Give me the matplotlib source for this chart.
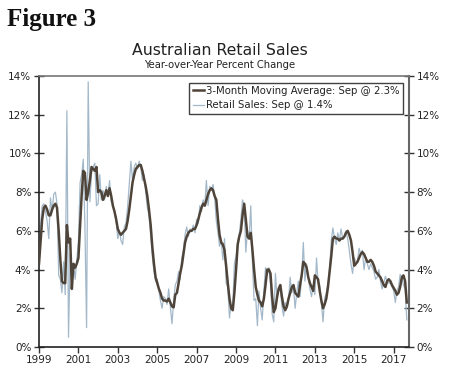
import matplotlib
matplotlib.use("Agg")
import matplotlib.pyplot as plt
import matplotlib.dates as mdates
import numpy as np
import pandas as pd

# 3-month moving average, monthly Jan 1999 - Sep 2017 (%)
ma_1999 = [4.3, 5.5, 6.6, 7.2, 7.3, 7.1, 6.8, 6.8, 7.1, 7.3, 7.4, 7.2]
ma_2000 = [6.0, 4.5, 3.4, 3.3, 3.3, 6.3, 5.4, 5.6, 3.0, 4.3, 4.1, 4.3]
ma_2001 = [4.6, 6.3, 7.8, 9.1, 9.0, 7.6, 8.0, 8.6, 9.3, 9.2, 9.1, 9.3]
ma_2002 = [8.0, 8.1, 8.0, 7.6, 7.8, 8.1, 7.8, 8.2, 7.8, 7.3, 7.0, 6.6]
ma_2003 = [6.1, 5.9, 5.8, 5.9, 6.0, 6.1, 6.5, 7.1, 7.8, 8.5, 8.9, 9.2]
ma_2004 = [9.3, 9.4, 9.4, 9.1, 8.7, 8.3, 7.8, 7.1, 6.3, 5.2, 4.3, 3.6]
ma_2005 = [3.3, 3.0, 2.8, 2.5, 2.4, 2.4, 2.35, 2.5, 2.3, 2.1, 2.05, 2.7]
ma_2006 = [2.8, 3.3, 3.8, 4.2, 4.8, 5.4, 5.7, 5.9, 6.0, 6.0, 6.1, 6.1]
ma_2007 = [6.3, 6.6, 6.9, 7.2, 7.4, 7.3, 7.6, 7.9, 8.1, 8.2, 8.1, 7.8]
ma_2008 = [7.6, 6.6, 5.8, 5.4, 5.3, 5.0, 4.2, 3.3, 2.5, 2.0, 1.9, 2.8]
ma_2009 = [4.0, 5.3, 5.7, 6.0, 6.8, 7.4, 6.6, 5.7, 5.6, 5.9, 5.0, 4.0]
ma_2010 = [3.1, 2.7, 2.4, 2.3, 2.1, 2.5, 3.2, 4.0, 4.0, 3.8, 2.6, 1.8]
ma_2011 = [2.0, 2.6, 3.0, 3.2, 2.6, 2.1, 1.9, 2.1, 2.5, 2.8, 3.1, 3.2]
ma_2012 = [2.8, 2.7, 2.6, 3.2, 3.7, 4.4, 4.3, 4.1, 3.6, 3.3, 3.1, 2.9]
ma_2013 = [3.7, 3.6, 3.5, 2.9, 2.4, 2.0, 2.2, 2.5, 3.1, 3.9, 4.7, 5.6]
ma_2014 = [5.7, 5.6, 5.6, 5.5, 5.6, 5.6, 5.7, 5.9, 6.0, 5.8, 5.5, 4.9]
ma_2015 = [4.2, 4.3, 4.4, 4.6, 4.8, 4.9, 4.8, 4.6, 4.4, 4.4, 4.5, 4.4]
ma_2016 = [4.2, 3.9, 3.8, 3.7, 3.6, 3.4, 3.2, 3.1, 3.4, 3.5, 3.4, 3.2]
ma_2017 = [3.05, 2.9, 2.7, 2.8, 3.1, 3.6, 3.7, 3.4, 2.3]

# Retail sales, year-over-year (%)
rs_1999 = [4.3, 6.4, 7.3, 7.4, 7.0, 6.5, 5.6, 7.7, 7.0, 7.9, 8.0, 7.4]
rs_2000 = [3.7, 3.5, 2.8, 4.4, 2.7, 12.2, 0.5, 4.8, 3.7, 4.3, 3.5, 4.5]
rs_2001 = [5.5, 8.5, 8.9, 9.7, 6.3, 1.0, 13.7, 7.5, 9.0, 9.3, 9.5, 7.3]
rs_2002 = [7.4, 8.9, 7.6, 8.1, 7.6, 8.3, 7.8, 8.6, 7.5, 7.4, 6.9, 6.5]
rs_2003 = [5.6, 6.0, 5.5, 5.3, 6.2, 6.4, 7.2, 8.4, 9.6, 8.6, 9.3, 9.5]
rs_2004 = [9.2, 9.6, 9.3, 8.6, 8.9, 8.0, 7.2, 6.8, 5.8, 4.7, 3.9, 3.4]
rs_2005 = [3.5, 2.9, 2.4, 2.0, 2.6, 2.5, 2.2, 3.0, 2.1, 1.2, 2.4, 3.2]
rs_2006 = [3.4, 3.9, 3.5, 4.6, 5.0, 5.8, 6.2, 5.7, 6.1, 6.0, 6.3, 5.9]
rs_2007 = [6.6, 6.4, 7.3, 7.0, 7.6, 7.3, 8.6, 7.3, 8.3, 8.1, 8.4, 7.7]
rs_2008 = [6.5, 5.9, 5.2, 5.5, 4.5, 5.6, 3.3, 3.1, 1.5, 2.2, 2.1, 4.3]
rs_2009 = [4.7, 5.5, 5.8, 6.6, 7.6, 7.3, 4.9, 6.0, 5.6, 7.3, 4.3, 2.4]
rs_2010 = [2.5, 1.1, 2.9, 2.0, 1.4, 2.9, 4.1, 3.7, 4.1, 3.3, 1.7, 1.3]
rs_2011 = [3.8, 2.4, 3.1, 3.0, 2.1, 1.6, 2.3, 2.0, 2.4, 3.6, 2.8, 3.1]
rs_2012 = [2.0, 2.8, 3.4, 2.6, 3.6, 5.4, 3.4, 4.3, 3.6, 3.0, 2.6, 3.2]
rs_2013 = [2.7, 4.6, 3.3, 3.2, 2.3, 1.3, 2.5, 2.8, 3.3, 4.0, 5.5, 6.15]
rs_2014 = [5.6, 5.3, 5.9, 5.5, 6.1, 5.6, 5.7, 6.0, 5.6, 5.0, 4.3, 3.8]
rs_2015 = [4.6, 4.4, 4.4, 5.1, 4.8, 5.0, 4.0, 4.6, 4.3, 4.0, 4.3, 4.1]
rs_2016 = [3.9, 3.5, 3.6, 4.0, 3.4, 3.0, 3.3, 3.65, 3.4, 3.3, 3.3, 3.1]
rs_2017 = [2.9, 2.3, 2.9, 3.1, 3.75, 3.6, 3.2, 3.0, 1.4]

ma_label = "3-Month Moving Average: Sep @ 2.3%"
rs_label = "Retail Sales: Sep @ 1.4%"
year_ticks = list(range(1999, 2018, 2))
pct_ticks = [0, 2, 4, 6, 8, 10, 12, 14]

ma = sum([ma_1999, ma_2000, ma_2001, ma_2002, ma_2003, ma_2004, ma_2005, ma_2006,
          ma_2007, ma_2008, ma_2009, ma_2010, ma_2011, ma_2012, ma_2013, ma_2014,
          ma_2015, ma_2016, ma_2017], [])
rs = sum([rs_1999, rs_2000, rs_2001, rs_2002, rs_2003, rs_2004, rs_2005, rs_2006,
          rs_2007, rs_2008, rs_2009, rs_2010, rs_2011, rs_2012, rs_2013, rs_2014,
          rs_2015, rs_2016, rs_2017], [])
dates = pd.date_range("1999-01-01", periods=len(ma), freq="MS")

plt.rcParams['font.family'] = ['DejaVu Sans']
fig = plt.figure(figsize=(4.5, 3.71), dpi=100)
ax = fig.add_axes([39/450, 24/371, 370/450, 271/371])

ax.plot(dates, rs, color="#a3b8c9", lw=0.9, label=rs_label, zorder=2)
ax.plot(dates, ma, color="#4f4439", lw=1.8, label=ma_label, zorder=3)

ax.set_ylim(0, 14)
ax.set_xlim(pd.Timestamp("1999-01-01"), pd.Timestamp("2017-10-12"))
ax.set_yticks(pct_ticks)
ax.set_yticklabels([f"{v}%" for v in pct_ticks])
ax.set_xticks([pd.Timestamp(f"{y}-01-01") for y in year_ticks])
ax.set_xticklabels([str(y) for y in year_ticks])

ax.tick_params(axis='y', direction='inout', length=7, width=1, labelsize=7.5,
               left=True, right=True, labelleft=True, labelright=True,
               colors="#333333", labelcolor="#222222", pad=2)
ax.tick_params(axis='x', direction='out', length=4, width=1, labelsize=7.5,
               colors="#333333", labelcolor="#222222", pad=2)
for side in ['left', 'bottom']:
    ax.spines[side].set_color("#222222")
    ax.spines[side].set_linewidth(1.2)
ax.spines['right'].set_color("#666666")
ax.spines['right'].set_linewidth(1.5)
ax.spines['top'].set_color("#777777")
ax.spines['top'].set_linewidth(1.2)

handles, labels = ax.get_legend_handles_labels()
leg = ax.legend(handles[::-1], labels[::-1], loc='upper right',
                bbox_to_anchor=(403/450, (371-82.5)/371), bbox_transform=fig.transFigure,
                fontsize=7.3, frameon=True, fancybox=False, edgecolor="#111111",
                handlelength=1.1, handletextpad=0.2, borderpad=0.35,
                labelspacing=0.4, borderaxespad=0)
leg.get_frame().set_linewidth(1.0)
for t in leg.get_texts():
    t.set_color("#222222")

fig.text(7/450, 1 - 26/371, "Figure 3", fontsize=18, fontweight='bold',
         family='Liberation Serif', ha='left', va='baseline', color="#111111")
fig.text(220/450, 1 - 55/371, "Australian Retail Sales", fontsize=11.3,
         ha='center', va='baseline', color="#222222")
fig.text(220/450, 1 - 68.5/371, "Year-over-Year Percent Change", fontsize=7.2,
         ha='center', va='baseline', color="#222222")

fig.savefig("out.png", dpi=100)
